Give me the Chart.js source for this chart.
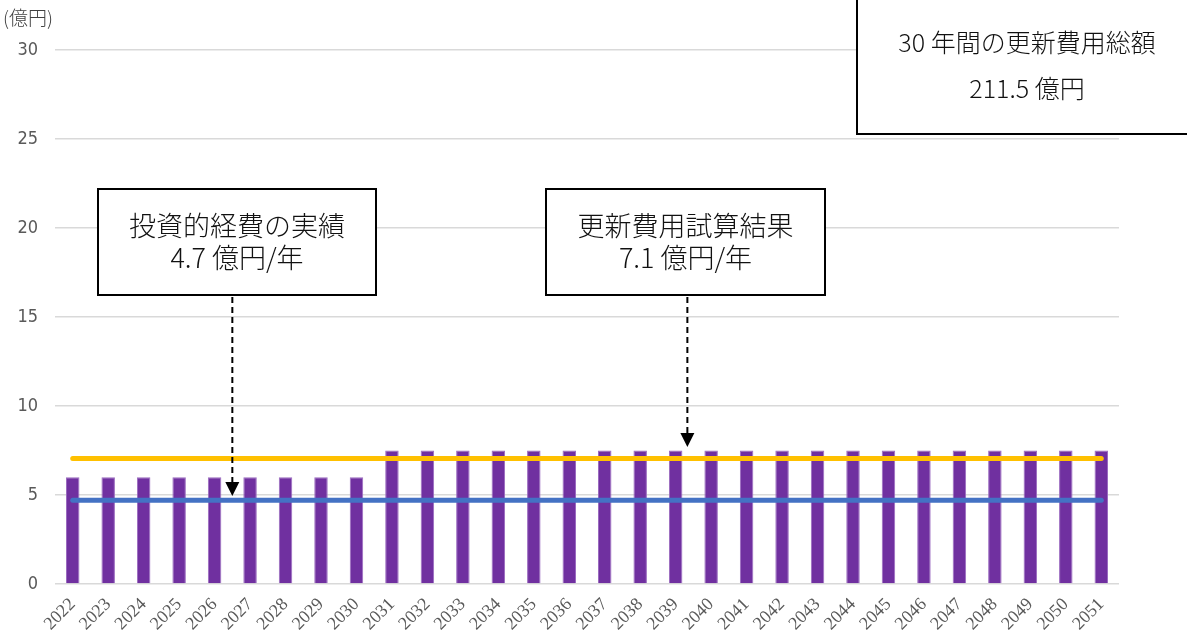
<!DOCTYPE html>
<html>
<head>
<meta charset="utf-8">
<script src="https://cdn.jsdelivr.net/npm/chart.js@4/dist/chart.umd.min.js"></script>
<style>
  html, body { margin: 0; padding: 0; background: #fff; }
  #wrap { position: relative; width: 1187px; height: 636px; }
</style>
</head>
<body>
<div id="wrap"><canvas id="costChart" width="1187" height="636"></canvas></div>
<script>
// chart data
const years = ['2022','2023','2024','2025','2026','2027','2028','2029','2030','2031',
               '2032','2033','2034','2035','2036','2037','2038','2039','2040','2041',
               '2042','2043','2044','2045','2046','2047','2048','2049','2050','2051'];
const renewalCost = [6, 6, 6, 6, 6, 6, 6, 6, 6, 7.5,
                     7.5, 7.5, 7.5, 7.5, 7.5, 7.5, 7.5, 7.5, 7.5, 7.5,
                     7.5, 7.5, 7.5, 7.5, 7.5, 7.5, 7.5, 7.5, 7.5, 7.5];
const renewalAverage = [7.05, 7.05, 7.05, 7.05, 7.05, 7.05, 7.05, 7.05, 7.05, 7.05,
                        7.05, 7.05, 7.05, 7.05, 7.05, 7.05, 7.05, 7.05, 7.05, 7.05,
                        7.05, 7.05, 7.05, 7.05, 7.05, 7.05, 7.05, 7.05, 7.05, 7.05];
const investActual = [4.7, 4.7, 4.7, 4.7, 4.7, 4.7, 4.7, 4.7, 4.7, 4.7,
                      4.7, 4.7, 4.7, 4.7, 4.7, 4.7, 4.7, 4.7, 4.7, 4.7,
                      4.7, 4.7, 4.7, 4.7, 4.7, 4.7, 4.7, 4.7, 4.7, 4.7];
const yTicks = [0, 5, 10, 15, 20, 25, 30];

const boxFont = '"Noto Sans CJK JP", sans-serif';

// Draws the callout boxes and dashed arrows on top of the chart
const calloutPlugin = {
    id: 'callouts',
    afterDraw(chart) {
        const ctx = chart.ctx;
        ctx.save();

        // unit label
        ctx.fillStyle = '#404040';
        ctx.font = '300 19px ' + boxFont;
        ctx.textAlign = 'left';
        ctx.textBaseline = 'middle';
        ctx.fillText('(億円)', 3, 18);

        function box(x, y, w, h, lines, size, gap) {
            ctx.fillStyle = '#fff';
            ctx.fillRect(x, y, w, h);
            ctx.strokeStyle = '#000';
            ctx.lineWidth = 2;
            ctx.setLineDash([]);
            ctx.strokeRect(x, y, w, h);
            ctx.fillStyle = '#111';
            ctx.font = '300 ' + size + 'px ' + boxFont;
            ctx.textAlign = 'center';
            ctx.textBaseline = 'middle';
            const cx = x + w / 2;
            const start = y + h / 2 - gap * (lines.length - 1) / 2;
            lines.forEach((t, i) => ctx.fillText(t, cx, start + i * gap));
        }

        function arrow(x, y0, tip) {
            ctx.strokeStyle = '#000';
            ctx.lineWidth = 2;
            ctx.setLineDash([6, 4]);
            ctx.beginPath();
            ctx.moveTo(x, y0);
            ctx.lineTo(x, tip - 13);
            ctx.stroke();
            ctx.setLineDash([]);
            ctx.fillStyle = '#000';
            ctx.beginPath();
            ctx.moveTo(x - 7, tip - 14);
            ctx.lineTo(x + 7, tip - 14);
            ctx.lineTo(x, tip);
            ctx.closePath();
            ctx.fill();
        }

        const yScale = chart.scales.y;
        const xScale = chart.scales.x;
        const x1 = (xScale.getPixelForValue(4) + xScale.getPixelForValue(5)) / 2;
        const x2 = xScale.getPixelForValue(17.33);

        arrow(x1, 297, yScale.getPixelForValue(4.95));
        arrow(x2, 297, yScale.getPixelForValue(7.7));

        box(98, 189, 278, 106, ['投資的経費の実績', '4.7 億円/年'], 27, 32);
        box(546, 189, 279, 106, ['更新費用試算結果', '7.1 億円/年'], 27, 32);
        box(857, -4, 340, 138, ['30 年間の更新費用総額', '211.5 億円'], 25, 46);

        ctx.restore();
    }
};

const ctx = document.getElementById('costChart').getContext('2d');
new Chart(ctx, {
    type: 'bar',
    data: {
        labels: years,
        datasets: [
            {
                type: 'line',
                label: '更新費用試算平均',
                data: renewalAverage,
                borderColor: '#FFC000',
                borderWidth: 5,
                borderCapStyle: 'round',
                pointRadius: 0,
                order: 0
            },
            {
                type: 'line',
                label: '投資的経費の実績',
                data: investActual,
                borderColor: '#4472C4',
                borderWidth: 5,
                borderCapStyle: 'round',
                pointRadius: 0,
                order: 0
            },
            {
                label: '更新費用',
                data: renewalCost,
                backgroundColor: '#7030A0',
                borderColor: '#9B6BC0',
                borderWidth: 1,
                barPercentage: 0.38,
                categoryPercentage: 1,
                order: 1
            }
        ]
    },
    options: {
        responsive: false,
        animation: false,
        layout: { padding: { top: 50, right: 68, left: 0, bottom: 0 } },
        plugins: {
            legend: { display: false },
            tooltip: { enabled: false }
        },
        scales: {
            x: {
                grid: { display: false },
                border: { display: false },
                ticks: {
                    color: '#595959',
                    font: { family: '"Liberation Serif", serif', size: 18 },
                    minRotation: 45,
                    maxRotation: 45,
                    padding: 2
                },
                afterFit(scale) { scale.height = 52; }
            },
            y: {
                min: 0,
                max: 30,
                afterBuildTicks(scale) {
                    scale.ticks = yTicks.map(v => ({ value: v }));
                },
                grid: { color: '#D9D9D9', lineWidth: 1.5, drawTicks: false },
                border: { display: false },
                ticks: {
                    color: '#595959',
                    font: { family: '"DejaVu Sans Condensed", sans-serif', size: 18, weight: '300' },
                    padding: 17
                },
                afterFit(scale) { scale.width = 55; }
            }
        }
    },
    plugins: [calloutPlugin]
});
</script>
</body>
</html>
